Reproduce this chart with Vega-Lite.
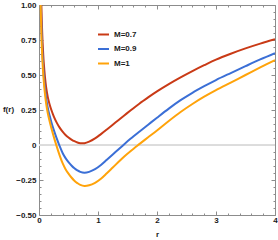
{
  "$schema": "https://vega.github.io/schema/vega-lite/v6.json",
  "width": 236,
  "height": 210,
  "autosize": {"type": "none"},
  "padding": {"left": 39, "top": 5, "right": 3, "bottom": 25},
  "background": "white",
  "config": {
    "font": "Liberation Sans",
    "view": {"stroke": "#8c8c8c", "strokeWidth": 1},
    "axis": {
      "labelFont": "Liberation Sans", "labelFontSize": 8, "labelFontWeight": "bold", "labelColor": "#1a1a1a",
      "titleFont": "Liberation Sans", "titleFontSize": 8, "titleFontWeight": "bold", "titleColor": "#1a1a1a",
      "tickColor": "#8c8c8c", "tickWidth": 1, "domain": false, "grid": false, "labelFlush": false, "labelOverlap": false
    }
  },
  "data": {"values": [
    {"M":"M=0.7","r":0.025,"f":1.32},{"M":"M=0.7","r":0.03,"f":1.2},{"M":"M=0.7","r":0.035,"f":1.09},{"M":"M=0.7","r":0.04,"f":1.0},{"M":"M=0.7","r":0.045,"f":0.915},{"M":"M=0.7","r":0.05,"f":0.85},{"M":"M=0.7","r":0.06,"f":0.74},{"M":"M=0.7","r":0.07,"f":0.66},{"M":"M=0.7","r":0.08,"f":0.59},{"M":"M=0.7","r":0.1,"f":0.49},{"M":"M=0.7","r":0.12,"f":0.415},{"M":"M=0.7","r":0.15,"f":0.34},{"M":"M=0.7","r":0.18,"f":0.29},{"M":"M=0.7","r":0.21,"f":0.25},{"M":"M=0.7","r":0.25,"f":0.205},{"M":"M=0.7","r":0.3,"f":0.16},{"M":"M=0.7","r":0.35,"f":0.124},{"M":"M=0.7","r":0.4,"f":0.095},{"M":"M=0.7","r":0.45,"f":0.072},{"M":"M=0.7","r":0.5,"f":0.054},{"M":"M=0.7","r":0.55,"f":0.039},{"M":"M=0.7","r":0.6,"f":0.027},{"M":"M=0.7","r":0.65,"f":0.018},{"M":"M=0.7","r":0.7,"f":0.013},{"M":"M=0.7","r":0.77,"f":0.013},{"M":"M=0.7","r":0.85,"f":0.024},{"M":"M=0.7","r":0.95,"f":0.047},{"M":"M=0.7","r":1.05,"f":0.078},{"M":"M=0.7","r":1.15,"f":0.111},{"M":"M=0.7","r":1.25,"f":0.145},{"M":"M=0.7","r":1.35,"f":0.179},{"M":"M=0.7","r":1.45,"f":0.213},{"M":"M=0.7","r":1.55,"f":0.246},{"M":"M=0.7","r":1.7,"f":0.295},{"M":"M=0.7","r":1.85,"f":0.34},{"M":"M=0.7","r":2.0,"f":0.383},{"M":"M=0.7","r":2.2,"f":0.435},{"M":"M=0.7","r":2.4,"f":0.483},{"M":"M=0.7","r":2.6,"f":0.528},{"M":"M=0.7","r":2.8,"f":0.57},{"M":"M=0.7","r":3.0,"f":0.61},{"M":"M=0.7","r":3.25,"f":0.652},{"M":"M=0.7","r":3.5,"f":0.69},{"M":"M=0.7","r":3.75,"f":0.724},{"M":"M=0.7","r":4.0,"f":0.755},
    {"M":"M=0.9","r":0.025,"f":1.17},{"M":"M=0.9","r":0.03,"f":1.053},{"M":"M=0.9","r":0.035,"f":0.95},{"M":"M=0.9","r":0.04,"f":0.867},{"M":"M=0.9","r":0.045,"f":0.792},{"M":"M=0.9","r":0.05,"f":0.737},{"M":"M=0.9","r":0.06,"f":0.64},{"M":"M=0.9","r":0.07,"f":0.567},{"M":"M=0.9","r":0.08,"f":0.503},{"M":"M=0.9","r":0.1,"f":0.41},{"M":"M=0.9","r":0.12,"f":0.338},{"M":"M=0.9","r":0.15,"f":0.263},{"M":"M=0.9","r":0.18,"f":0.21},{"M":"M=0.9","r":0.21,"f":0.163},{"M":"M=0.9","r":0.25,"f":0.108},{"M":"M=0.9","r":0.3,"f":0.047},{"M":"M=0.9","r":0.35,"f":-0.008},{"M":"M=0.9","r":0.4,"f":-0.057},{"M":"M=0.9","r":0.45,"f":-0.094},{"M":"M=0.9","r":0.5,"f":-0.122},{"M":"M=0.9","r":0.55,"f":-0.146},{"M":"M=0.9","r":0.6,"f":-0.166},{"M":"M=0.9","r":0.65,"f":-0.181},{"M":"M=0.9","r":0.7,"f":-0.192},{"M":"M=0.9","r":0.77,"f":-0.198},{"M":"M=0.9","r":0.85,"f":-0.192},{"M":"M=0.9","r":0.95,"f":-0.173},{"M":"M=0.9","r":1.05,"f":-0.143},{"M":"M=0.9","r":1.15,"f":-0.106},{"M":"M=0.9","r":1.25,"f":-0.068},{"M":"M=0.9","r":1.35,"f":-0.03},{"M":"M=0.9","r":1.45,"f":0.008},{"M":"M=0.9","r":1.55,"f":0.044},{"M":"M=0.9","r":1.7,"f":0.095},{"M":"M=0.9","r":1.85,"f":0.145},{"M":"M=0.9","r":2.0,"f":0.195},{"M":"M=0.9","r":2.2,"f":0.26},{"M":"M=0.9","r":2.4,"f":0.32},{"M":"M=0.9","r":2.6,"f":0.373},{"M":"M=0.9","r":2.8,"f":0.42},{"M":"M=0.9","r":3.0,"f":0.464},{"M":"M=0.9","r":3.25,"f":0.514},{"M":"M=0.9","r":3.5,"f":0.563},{"M":"M=0.9","r":3.75,"f":0.611},{"M":"M=0.9","r":4.0,"f":0.656},
    {"M":"M=1","r":0.025,"f":1.1},{"M":"M=1","r":0.03,"f":0.98},{"M":"M=1","r":0.035,"f":0.88},{"M":"M=1","r":0.04,"f":0.8},{"M":"M=1","r":0.045,"f":0.73},{"M":"M=1","r":0.05,"f":0.68},{"M":"M=1","r":0.06,"f":0.59},{"M":"M=1","r":0.07,"f":0.52},{"M":"M=1","r":0.08,"f":0.46},{"M":"M=1","r":0.1,"f":0.37},{"M":"M=1","r":0.12,"f":0.3},{"M":"M=1","r":0.15,"f":0.225},{"M":"M=1","r":0.18,"f":0.17},{"M":"M=1","r":0.21,"f":0.12},{"M":"M=1","r":0.25,"f":0.06},{"M":"M=1","r":0.3,"f":-0.01},{"M":"M=1","r":0.35,"f":-0.074},{"M":"M=1","r":0.4,"f":-0.13},{"M":"M=1","r":0.45,"f":-0.173},{"M":"M=1","r":0.5,"f":-0.205},{"M":"M=1","r":0.55,"f":-0.232},{"M":"M=1","r":0.6,"f":-0.255},{"M":"M=1","r":0.65,"f":-0.272},{"M":"M=1","r":0.7,"f":-0.285},{"M":"M=1","r":0.77,"f":-0.293},{"M":"M=1","r":0.85,"f":-0.288},{"M":"M=1","r":0.95,"f":-0.27},{"M":"M=1","r":1.05,"f":-0.241},{"M":"M=1","r":1.15,"f":-0.202},{"M":"M=1","r":1.25,"f":-0.161},{"M":"M=1","r":1.35,"f":-0.12},{"M":"M=1","r":1.45,"f":-0.08},{"M":"M=1","r":1.55,"f":-0.044},{"M":"M=1","r":1.7,"f":0.006},{"M":"M=1","r":1.85,"f":0.055},{"M":"M=1","r":2.0,"f":0.104},{"M":"M=1","r":2.2,"f":0.172},{"M":"M=1","r":2.4,"f":0.236},{"M":"M=1","r":2.6,"f":0.293},{"M":"M=1","r":2.8,"f":0.345},{"M":"M=1","r":3.0,"f":0.392},{"M":"M=1","r":3.25,"f":0.446},{"M":"M=1","r":3.5,"f":0.5},{"M":"M=1","r":3.75,"f":0.554},{"M":"M=1","r":4.0,"f":0.607}
  ]},
  "layer": [
    {
      "mark": {"type": "rule", "color": "#dcdcdc", "strokeWidth": 1},
      "encoding": {"y": {"datum": 0, "type": "quantitative", "scale": {"domain": [-0.5, 1], "nice": false, "zero": false}, "axis": null}}
    },
    {
      "mark": {"type": "line", "strokeWidth": 2, "clip": true, "interpolate": "catmull-rom"},
      "encoding": {
        "x": {"field": "r", "type": "quantitative", "scale": {"domain": [0, 4], "nice": false, "zero": false},
          "axis": {"orient": "bottom", "values": [0, 1, 2, 3, 4], "ticks": false, "labelPadding": 1, "format": "d",
            "title": "r", "titleX": 118, "titleY": 21, "titleBaseline": "alphabetic", "titleAlign": "center"}},
        "y": {"field": "f", "type": "quantitative", "scale": {"domain": [-0.5, 1], "nice": false, "zero": false},
          "axis": {"orient": "left", "values": [-0.5, -0.25, 0, 0.25, 0.5, 0.75, 1], "ticks": false, "labelPadding": 3,
            "labelExpr": "datum.value == 0 ? '0' : format(datum.value, '.2f')",
            "title": "f(r)", "titleAngle": 0, "titleX": -31, "titleY": 104, "titleAlign": "center", "titleBaseline": "middle"}},
        "color": {"field": "M", "type": "nominal",
          "scale": {"domain": ["M=0.7", "M=0.9", "M=1"], "range": ["#c93a16", "#3b6fd6", "#ffa30a"]},
          "legend": {"orient": "none", "legendX": 58, "legendY": 23, "title": null, "symbolType": "stroke",
            "symbolSize": 121, "symbolStrokeWidth": 2, "labelFont": "Liberation Sans", "labelFontSize": 8,
            "labelFontWeight": "bold", "labelColor": "#1a1a1a", "rowPadding": 3.5, "labelOffset": 4, "padding": 0}}
      }
    },
    {
      "mark": {"type": "point", "opacity": 0},
      "encoding": {
        "x": {"field": "r", "type": "quantitative", "axis": {"orient": "bottom", "values": [0, 1, 2, 3, 4], "labels": false, "tickSize": -4, "title": null}},
        "y": {"field": "f", "type": "quantitative", "axis": {"orient": "left", "values": [-0.5, -0.25, 0, 0.25, 0.5, 0.75, 1], "labels": false, "tickSize": -4, "title": null}}
      }
    },
    {
      "mark": {"type": "point", "opacity": 0},
      "encoding": {
        "x": {"field": "r", "type": "quantitative", "axis": {"orient": "bottom", "values": [0.2, 0.4, 0.6, 0.8, 1.2, 1.4, 1.6, 1.8, 2.2, 2.4, 2.6, 2.8, 3.2, 3.4, 3.6, 3.8], "labels": false, "tickSize": -2, "title": null}},
        "y": {"field": "f", "type": "quantitative", "axis": {"orient": "left", "values": [-0.45, -0.4, -0.35, -0.3, -0.2, -0.15, -0.1, -0.05, 0.05, 0.1, 0.15, 0.2, 0.3, 0.35, 0.4, 0.45, 0.55, 0.6, 0.65, 0.7, 0.8, 0.85, 0.9, 0.95], "labels": false, "tickSize": -2, "title": null}}
      }
    },
    {
      "mark": {"type": "point", "opacity": 0},
      "encoding": {
        "x": {"field": "r", "type": "quantitative", "axis": {"orient": "top", "values": [0, 1, 2, 3, 4], "labels": false, "tickSize": -4, "title": null}},
        "y": {"field": "f", "type": "quantitative", "axis": {"orient": "right", "values": [-0.5, -0.25, 0, 0.25, 0.5, 0.75, 1], "labels": false, "tickSize": -4, "title": null}}
      }
    },
    {
      "mark": {"type": "point", "opacity": 0},
      "encoding": {
        "x": {"field": "r", "type": "quantitative", "axis": {"orient": "top", "values": [0.2, 0.4, 0.6, 0.8, 1.2, 1.4, 1.6, 1.8, 2.2, 2.4, 2.6, 2.8, 3.2, 3.4, 3.6, 3.8], "labels": false, "tickSize": -2, "title": null}},
        "y": {"field": "f", "type": "quantitative", "axis": {"orient": "right", "values": [-0.45, -0.4, -0.35, -0.3, -0.2, -0.15, -0.1, -0.05, 0.05, 0.1, 0.15, 0.2, 0.3, 0.35, 0.4, 0.45, 0.55, 0.6, 0.65, 0.7, 0.8, 0.85, 0.9, 0.95], "labels": false, "tickSize": -2, "title": null}}
      }
    }
  ],
  "resolve": {"axis": {"x": "independent", "y": "independent"}}
}
